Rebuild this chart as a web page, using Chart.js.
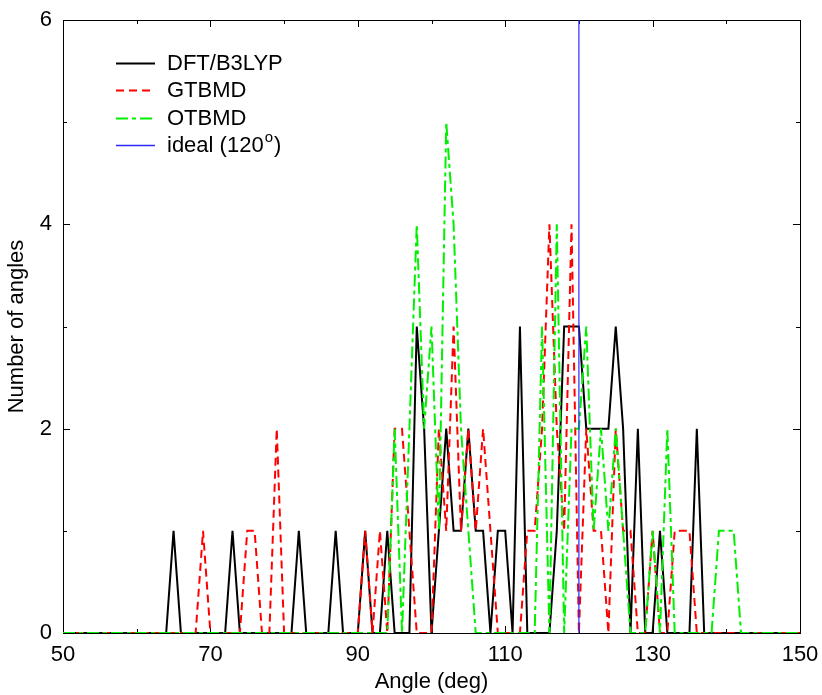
<!DOCTYPE html>
<html>
<head>
<meta charset="utf-8">
<title>Angle distribution</title>
<script src="https://cdn.jsdelivr.net/npm/chart.js@4.4.1/dist/chart.umd.min.js"></script>
<style>
  html, body { margin: 0; padding: 0; background: #fff; }
  #wrap { width: 822px; height: 695px; }
</style>
</head>
<body>
<div id="wrap"><canvas id="chart" width="822" height="695"></canvas></div>
<script>
// Angle bins (deg), one per degree
const angles = [
   50,  51,  52,  53,  54,  55,  56,  57,  58,  59,
   60,  61,  62,  63,  64,  65,  66,  67,  68,  69,
   70,  71,  72,  73,  74,  75,  76,  77,  78,  79,
   80,  81,  82,  83,  84,  85,  86,  87,  88,  89,
   90,  91,  92,  93,  94,  95,  96,  97,  98,  99,
  100, 101, 102, 103, 104, 105, 106, 107, 108, 109,
  110, 111, 112, 113, 114, 115, 116, 117, 118, 119,
  120, 121, 122, 123, 124, 125, 126, 127, 128, 129,
  130, 131, 132, 133, 134, 135, 136, 137, 138, 139,
  140, 141, 142, 143, 144, 145, 146, 147, 148, 149,
  150
];

// Number of angles per bin, rows = decades starting at 50
const dftB3lyp = [
  0, 0, 0, 0, 0, 0, 0, 0, 0, 0,
  0, 0, 0, 0, 0, 1, 0, 0, 0, 0,
  0, 0, 0, 1, 0, 0, 0, 0, 0, 0,
  0, 0, 1, 0, 0, 0, 0, 1, 0, 0,
  0, 1, 0, 0, 1, 0, 0, 0, 3, 2,
  0, 1, 2, 1, 1, 2, 1, 1, 0, 1,
  1, 0, 3, 0, 0, 0, 0, 1, 3, 3,
  3, 2, 2, 2, 2, 3, 2, 0, 2, 0,
  0, 1, 0, 0, 0, 0, 2, 0, 0, 0,
  0, 0, 0, 0, 0, 0, 0, 0, 0, 0,
  0
];

const gtbmd = [
  0, 0, 0, 0, 0, 0, 0, 0, 0, 0,
  0, 0, 0, 0, 0, 0, 0, 0, 0, 1,
  0, 0, 0, 0, 0, 1, 1, 0, 0, 2,
  0, 0, 0, 0, 0, 0, 0, 0, 0, 0,
  0, 1, 0, 1, 0, 2, 2, 1, 0, 0,
  0, 2, 1, 3, 1, 2, 1, 2, 1, 0,
  0, 0, 0, 1, 1, 2, 4, 2, 1, 4,
  0, 2, 1, 1, 0, 2, 1, 1, 0, 0,
  1, 0, 0, 1, 1, 1, 0, 0, 0, 0,
  0, 0, 0, 0, 0, 0, 0, 0, 0, 0,
  0
];

const otbmd = [
  0, 0, 0, 0, 0, 0, 0, 0, 0, 0,
  0, 0, 0, 0, 0, 0, 0, 0, 0, 0,
  0, 0, 0, 0, 0, 0, 0, 0, 0, 0,
  0, 0, 0, 0, 0, 0, 0, 0, 0, 0,
  0, 0, 0, 0, 0, 2, 0, 2, 4, 2,
  3, 1, 5, 4, 2, 1, 0, 0, 0, 0,
  0, 0, 0, 0, 0, 3, 0, 4, 0, 2,
  2, 3, 1, 2, 1, 2, 1, 0, 0, 0,
  1, 0, 2, 0, 0, 0, 0, 0, 0, 1,
  1, 1, 0, 0, 0, 0, 0, 0, 0, 0,
  0
];

// Ideal angle marker
const idealAngle = [120, 120];
const idealCount = [0, 6];

const xTicks = [50, 70, 90, 110, 130, 150];
const yTicks = [0, 2, 4, 6];

const FONT = "'Liberation Sans', Arial, Helvetica, sans-serif";
const FONT_SIZE = 22;

function toPoints(xs, ys) {
    return xs.map((x, i) => ({ x: x, y: ys[i] }));
}

// Frame box with inward tick marks on all four sides (gnuplot look)
const framePlugin = {
    id: 'frame',
    beforeDatasetsDraw(chart) {
        const { ctx, chartArea: a, scales: { x, y } } = chart;
        ctx.save();
        ctx.strokeStyle = '#000';
        ctx.lineWidth = 1;
        ctx.strokeRect(a.left + 0.5, a.top + 0.5, a.right - a.left, a.bottom - a.top);
        ctx.beginPath();
        x.ticks.forEach(t => {
            const px = Math.round(x.getPixelForValue(t.value)) + 0.5;
            const len = xTicks.includes(t.value) ? 7 : 4;
            ctx.moveTo(px, a.bottom); ctx.lineTo(px, a.bottom - len);
            ctx.moveTo(px, a.top); ctx.lineTo(px, a.top + len);
        });
        y.ticks.forEach(t => {
            const py = Math.round(y.getPixelForValue(t.value)) + 0.5;
            const len = yTicks.includes(t.value) ? 7 : 4;
            ctx.moveTo(a.left, py); ctx.lineTo(a.left + len, py);
            ctx.moveTo(a.right, py); ctx.lineTo(a.right - len, py);
        });
        ctx.stroke();
        ctx.restore();
    }
};

// Legend drawn inside the plot, top left
const legendPlugin = {
    id: 'insideLegend',
    afterDatasetsDraw(chart) {
        const ctx = chart.ctx;
        const x0 = 116, y0 = 63, rowH = 27.3, len = 39, textX = 167;
        ctx.save();
        ctx.textBaseline = 'middle';
        ctx.fillStyle = '#000';
        chart.data.datasets.forEach((ds, i) => {
            const y = Math.round(y0 + i * rowH) + 0.5;
            ctx.strokeStyle = ds.borderColor;
            ctx.lineWidth = Math.max(ds.borderWidth, 1.5);
            ctx.setLineDash(ds.borderDash || []);
            ctx.beginPath();
            ctx.moveTo(x0, y);
            ctx.lineTo(x0 + len, y);
            ctx.stroke();
            ctx.setLineDash([]);

            // a degree sign is shown as a raised small "o"
            const parts = ds.label.split('°');
            let tx = textX;
            ctx.font = FONT_SIZE + 'px ' + FONT;
            ctx.fillText(parts[0], tx, y);
            if (parts.length > 1) {
                tx += ctx.measureText(parts[0]).width + 1;
                ctx.font = '15px ' + FONT;
                ctx.fillText('o', tx, y - 8);
                tx += ctx.measureText('o').width + 1;
                ctx.font = FONT_SIZE + 'px ' + FONT;
                ctx.fillText(parts[1], tx, y);
            }
        });
        ctx.restore();
    }
};

const ctx = document.getElementById('chart').getContext('2d');
new Chart(ctx, {
    type: 'line',
    data: {
        datasets: [{
            label: 'DFT/B3LYP',
            data: toPoints(angles, dftB3lyp),
            borderColor: '#000000',
            borderWidth: 2,
            order: 4
        }, {
            label: 'GTBMD',
            data: toPoints(angles, gtbmd),
            borderColor: '#ff0000',
            borderWidth: 2,
            borderDash: [8, 5],
            order: 3
        }, {
            label: 'OTBMD',
            data: toPoints(angles, otbmd),
            borderColor: '#00f000',
            borderWidth: 2,
            borderDash: [12, 4, 4, 4],
            order: 2
        }, {
            label: 'ideal (120°)',
            data: toPoints(idealAngle, idealCount),
            borderColor: '#2a2aff',
            borderWidth: 1.2,
            order: 1
        }]
    },
    options: {
        responsive: false,
        animation: false,
        layout: { padding: { top: 20, right: 22, left: 0, bottom: 0 } },
        elements: {
            point: { radius: 0, hoverRadius: 0 },
            line: { tension: 0, borderJoinStyle: 'miter' }
        },
        plugins: {
            legend: { display: false },
            tooltip: { enabled: false }
        },
        scales: {
            x: {
                type: 'linear',
                min: 50,
                max: 150,
                grid: { display: false },
                border: { display: false },
                ticks: {
                    stepSize: 10,
                    autoSkip: false,
                    maxRotation: 0,
                    padding: 1,
                    color: '#000',
                    font: { family: FONT, size: FONT_SIZE },
                    callback: v => xTicks.includes(v) ? String(v) : ''
                },
                title: {
                    display: true,
                    text: 'Angle (deg)',
                    color: '#000',
                    font: { family: FONT, size: FONT_SIZE },
                    padding: { top: 0, bottom: 0 }
                },
                afterFit: s => {
                    s.height = 62;
                    s.paddingLeft = 0;
                    s.paddingRight = 0;
                }
            },
            y: {
                type: 'linear',
                min: 0,
                max: 6,
                grid: { display: false },
                border: { display: false },
                ticks: {
                    stepSize: 1,
                    autoSkip: false,
                    padding: 3,
                    color: '#000',
                    font: { family: FONT, size: FONT_SIZE },
                    callback: v => yTicks.includes(v) ? String(v) : ''
                },
                title: {
                    display: true,
                    text: 'Number of angles',
                    color: '#000',
                    font: { family: FONT, size: FONT_SIZE },
                    padding: { top: 4, bottom: 0 }
                },
                afterFit: s => {
                    s.width = 63;
                    s.paddingTop = 0;
                    s.paddingBottom = 0;
                }
            }
        }
    },
    plugins: [framePlugin, legendPlugin]
});
</script>
</body>
</html>
